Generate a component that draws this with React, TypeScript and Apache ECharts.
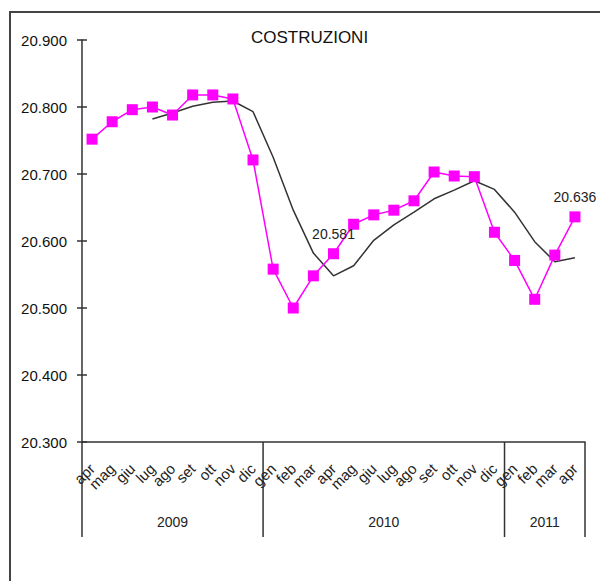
import React, { useEffect, useRef } from "react";
import * as echarts from "echarts";

const months = [
  "apr", "mag", "giu", "lug", "ago", "set", "ott", "nov", "dic",
  "gen", "feb", "mar", "apr", "mag", "giu", "lug", "ago", "set", "ott", "nov", "dic",
  "gen", "feb", "mar", "apr",
];
const years = ["2009", "2010", "2011"];
const yearMonthCounts = [9, 12, 4];

const indexValues = [
  20.752, 20.778, 20.796, 20.8, 20.788, 20.818, 20.818, 20.812, 20.721,
  20.558, 20.5, 20.548, 20.581, 20.625, 20.639, 20.646, 20.66, 20.703, 20.697, 20.696, 20.613,
  20.571, 20.513, 20.579, 20.636,
];
const trendValues: (number | null)[] = [
  null, null, null, 20.782, 20.791, 20.801, 20.807, 20.809, 20.793,
  20.725, 20.646, 20.582, 20.548, 20.563, 20.601, 20.624, 20.643, 20.663, 20.676, 20.69, 20.677,
  20.643, 20.599, 20.569, 20.575,
];
const labelledIndices = [12, 24];

const yMin = 20.3;
const yMax = 20.9;
const yStep = 0.1;

const FONT = "'Liberation Sans', Arial, sans-serif";

export default function App() {
  const ref = useRef<HTMLDivElement>(null);

  useEffect(() => {
    if (!ref.current) return;
    const chart = echarts.init(ref.current, null, { renderer: "svg" });

    const pinkData = indexValues.map((v, i) =>
      labelledIndices.includes(i)
        ? {
            value: v,
            label: {
              show: true,
              position: "top",
              distance: 7,
              formatter: (p: any) => Number(p.value).toFixed(3),
              color: "#222",
              fontSize: 14,
              fontFamily: FONT,
            },
          }
        : v
    );

    chart.setOption({
      animation: false,
      backgroundColor: "#fff",
      title: {
        text: "COSTRUZIONI",
        left: 246,
        top: 24,
        textStyle: { color: "#111", fontSize: 17, fontWeight: "normal", fontFamily: FONT },
      },
      grid: { left: 82, right: 15, top: 40, bottom: 139 },
      xAxis: {
        type: "category",
        data: months,
        boundaryGap: true,
        axisLine: { show: true, lineStyle: { color: "#333", width: 1.5 } },
        axisTick: { show: false },
        axisLabel: {
          interval: 0,
          rotate: 45,
          margin: 24,
          fontSize: 15,
          color: "#222",
          fontFamily: FONT,
        },
        splitLine: { show: false },
      },
      yAxis: [
        {
          type: "value",
          min: yMin,
          max: yMax,
          interval: yStep,
          axisLine: { show: true, lineStyle: { color: "#333", width: 1.5 } },
          axisTick: { show: true, length: 5, lineStyle: { color: "#333", width: 1.5 } },
          axisLabel: {
            formatter: (v: number) => v.toFixed(3),
            fontSize: 15,
            color: "#111",
            fontFamily: FONT,
            margin: 15,
          },
          splitLine: { show: false },
        },
        {
          type: "value",
          position: "left",
          min: yMin,
          max: yMax,
          interval: yStep,
          axisLine: { show: false },
          axisTick: { show: true, inside: true, length: 5, lineStyle: { color: "#333", width: 1.5 } },
          axisLabel: { show: false },
          splitLine: { show: false },
        },
      ],
      series: [
        {
          type: "line",
          data: trendValues,
          symbol: "none",
          connectNulls: false,
          lineStyle: { color: "#333", width: 1.5 },
          z: 2,
        },
        {
          type: "line",
          data: pinkData,
          symbol: "rect",
          symbolSize: 11,
          itemStyle: { color: "#ff00ff" },
          lineStyle: { color: "#ff00ff", width: 1.5 },
          z: 3,
        },
      ],
    });

    // Year grouping lines and labels, positioned from the category axis scale
    const p0 = chart.convertToPixel({ xAxisIndex: 0 }, 0) as number;
    const p1 = chart.convertToPixel({ xAxisIndex: 0 }, 1) as number;
    const step = p1 - p0;
    const axisY = chart.convertToPixel({ yAxisIndex: 0 }, yMin) as number;
    const lineBottom = axisY + 95;
    const elements: any[] = [
      {
        type: "rect",
        shape: { x: 10, y: 12, width: 700, height: 700 },
        style: { fill: "none", stroke: "#444", lineWidth: 2 },
        silent: true,
      },
    ];
    let start = 0;
    const boundaries: number[] = [p0 - step / 2];
    yearMonthCounts.forEach((count, k) => {
      const leftX = p0 + (start - 0.5) * step;
      const rightX = p0 + (start + count - 0.5) * step;
      boundaries.push(rightX);
      elements.push({
        type: "text",
        x: (leftX + rightX) / 2,
        y: axisY + 80,
        style: {
          text: years[k],
          fill: "#222",
          font: `14px ${FONT}`,
          textAlign: "center",
          textVerticalAlign: "middle",
        },
      });
      start += count;
    });
    boundaries.forEach((bx) => {
      elements.push({
        type: "line",
        shape: { x1: bx, y1: axisY, x2: bx, y2: lineBottom },
        style: { stroke: "#333", lineWidth: 1.5 },
      });
    });
    chart.setOption({ graphic: { elements } });

    return () => chart.dispose();
  }, []);

  return (
    <div
      ref={ref}
      style={{ position: "fixed", left: 0, top: 0, width: 600, height: 581 }}
    />
  );
}
